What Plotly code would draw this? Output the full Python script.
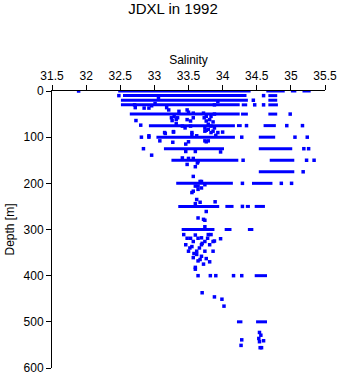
import plotly.graph_objects as go

# Horizontal runs of dense observations at standard depths: (depth, sal_start, sal_end)
run_depth = [0, 0, 0, 0,
             10, 10,
             20, 20,
             30, 30, 30,
             50, 50, 50,
             75, 75, 75,
             100, 100,
             125, 125,
             150, 150,
             175,
             200, 200,
             250, 250, 250, 250,
             300, 300, 300,
             400,
             500, 500]
run_start = [32.47, 34.64, 35.00, 35.17,
             32.54, 34.67,
             32.51, 34.67,
             32.51, 34.28, 34.67,
             32.64, 34.27, 34.67,
             32.92, 34.21, 34.60,
             33.03, 34.53,
             33.14, 34.53,
             33.25, 34.69,
             34.53,
             33.32, 34.43,
             33.35, 34.04, 34.34, 34.47,
             33.40, 34.03, 34.37,
             34.47,
             34.21, 34.49]
run_end = [34.41, 34.91, 35.08, 35.29,
           34.35, 34.80,
           34.37, 34.80,
           34.25, 34.36, 34.81,
           34.25, 34.37, 34.80,
           34.18, 34.28, 34.78,
           34.18, 34.77,
           34.02, 35.02,
           34.23, 35.05,
           35.05,
           34.15, 34.73,
           33.95, 34.16, 34.40, 34.62,
           33.88, 34.13, 34.45,
           34.65,
           34.29, 34.65]

# Individual observations
pt_sal = [31.89, 32.48, 34.60, 34.45, 34.47, 34.60, 34.99, 34.35, 34.94, 35.17,
          32.81, 32.92, 34.28, 35.06, 35.24, 32.84, 35.19, 35.26, 34.30, 35.23, 35.34,
          35.18, 34.29, 34.86, 35.01, 34.29,
          33.06, 33.01, 32.96, 32.71, 32.72, 32.85, 32.92, 33.18, 33.21, 33.36, 33.48,
          33.50, 33.57, 33.25, 33.29, 33.34, 33.32, 33.48, 33.53, 33.57, 33.73, 33.76,
          33.26, 32.80, 32.73, 33.32, 33.41, 33.45, 33.53, 33.15, 33.28, 33.55, 33.76,
          33.93, 33.88, 33.72, 33.76, 33.83, 33.88, 33.81, 33.86, 33.79, 33.83, 33.88,
          33.79, 33.86, 33.93, 33.74, 34.00,
          33.74, 33.83, 33.90, 33.79, 33.74, 33.97, 33.64, 33.67,
          32.92, 33.08, 33.16, 33.28, 33.27, 33.46, 33.50, 33.55, 33.62, 33.76, 32.96,
          33.46, 33.60, 33.41, 33.50, 33.57, 33.63, 33.48, 33.60, 33.57, 33.69, 33.74,
          33.64,
          33.60, 33.64, 33.57, 33.55, 33.69, 33.62, 33.60, 33.67, 33.89, 33.76, 33.64,
          33.72, 33.74, 33.74, 33.43, 33.60, 33.79, 33.83, 33.53, 33.69, 33.97, 33.88,
          33.48, 33.64, 33.78, 33.57, 33.74, 33.86, 33.46, 33.55, 33.69, 33.81, 33.50,
          33.62, 33.74, 33.86, 33.62, 33.69, 33.57, 33.67, 33.76, 33.81, 33.72, 33.60,
          33.60, 33.52, 33.66, 33.70, 33.58, 33.64,
          33.64, 33.82, 33.90, 34.16, 34.28,
          33.70, 33.88, 33.99, 34.02,
          34.54, 34.56, 34.53, 34.60, 34.54, 34.28, 34.27, 34.55, 34.57]
pt_depth = [0, 10, 10, 20, 30, 30, 50, 75, 75, 75,
            100, 100, 100, 100, 100, 125, 125, 125, 150, 150, 150,
            175, 200, 200, 200, 250,
            16, 27, 32, 30, 36, 37, 37, 36, 41, 44, 41,
            46, 48, 58, 55, 58, 62, 62, 65, 58, 58, 65,
            64, 74, 64, 71, 76, 80, 76, 90, 88, 90, 85,
            23, 30, 48, 55, 55, 50, 62, 67, 72, 76, 80,
            83, 87, 90, 80, 89,
            87, 90, 96, 108, 108, 132, 153, 196,
            97, 108, 92, 89, 111, 115, 110, 94, 97, 110, 139,
            131, 131, 145, 146, 146, 156, 159, 164, 185, 196, 203,
            206,
            206, 213, 217, 220, 210, 235, 244, 241, 240, 261, 275,
            278, 280, 294, 311, 312, 311, 311, 319, 318, 320, 325,
            319, 319, 319, 326, 326, 326, 333, 337, 333, 333, 347,
            347, 347, 347, 354, 358, 361, 365, 363, 370, 375, 382,
            386, 340, 340, 330, 352, 368,
            400, 400, 400, 400, 400,
            437, 446, 451, 466,
            523, 529, 536, 541, 543, 539, 551, 556, 556]

x_ticks = [31.5, 32, 32.5, 33, 33.5, 34, 34.5, 35, 35.5]
y_ticks = [0, 100, 200, 300, 400, 500, 600]

BLUE = "#0000ff"

seg_x, seg_y = [], []
for d, s0, s1 in zip(run_depth, run_start, run_end):
    seg_x += [s0, s1, None]
    seg_y += [d, d, None]

fig = go.Figure()
fig.add_trace(go.Scatter(x=seg_x, y=seg_y, mode="lines",
                         line=dict(color=BLUE, width=3), hoverinfo="skip",
                         showlegend=False))
fig.add_trace(go.Scatter(x=pt_sal, y=pt_depth, mode="markers",
                         marker=dict(symbol="square", size=3.5, color=BLUE,
                                     line=dict(width=0)),
                         showlegend=False))

font = "Liberation Sans, Arial, sans-serif"
fig.update_layout(
    width=346, height=384,
    margin=dict(l=48, r=14, t=91, b=9),
    paper_bgcolor="white", plot_bgcolor="white",
    font=dict(family=font, size=12, color="black"),
    title=dict(text="JDXL in 1992", x=0.5, xanchor="center",
               y=1 - 9 / 384, yanchor="middle", yref="container",
               font=dict(family=font, size=15, color="black")),
    xaxis=dict(side="top", range=[31.5, 35.5], tickvals=x_ticks,
               ticktext=[str(v) for v in x_ticks],
               showgrid=False, zeroline=False, showline=True,
               linecolor="black", linewidth=1, ticks="outside", ticklen=5,
               tickcolor="black", tickfont=dict(size=12),
               title=dict(text="Salinity", standoff=2, font=dict(size=12))),
    yaxis=dict(range=[600, 0], tickvals=y_ticks,
               showgrid=False, zeroline=False, showline=True,
               linecolor="black", linewidth=1, ticks="outside", ticklen=5,
               tickcolor="black", tickfont=dict(size=12),
               title=dict(text="Depth [m]", standoff=6, font=dict(size=12))),
)

fig.write_html("out.html")
